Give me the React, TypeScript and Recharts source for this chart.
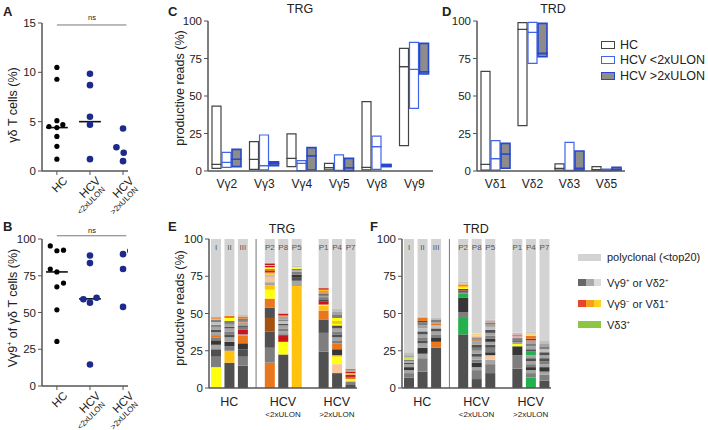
import React from 'react';
import { ScatterChart, Scatter, BarChart, Bar, XAxis, YAxis, ReferenceLine, Cell, LabelList } from 'recharts';

const FONT = '"Liberation Sans", Arial, Helvetica, sans-serif';
const AX = '#555';
const TXT = '#222';

// ---------- A / B : dot plots ----------
const groupMain = ['HC', 'HCV', 'HCV'];
const groupSub = ['', '<2xULON', '>2xULON'];

// x = group (1..3, small offsets as drawn), y = value
const aHc = [
  { x: 1, y: 10.5 }, { x: 1, y: 9.3 }, { x: 1, y: 5.1 }, { x: 0.76, y: 4.5 }, { x: 1.0, y: 4.4 },
  { x: 1.18, y: 4.7 }, { x: 1, y: 3.5 }, { x: 1, y: 2.5 }, { x: 1, y: 1.2 },
];
const aLow = [{ x: 2, y: 9.85 }, { x: 2, y: 8.7 }, { x: 2, y: 5.5 }, { x: 2, y: 4.7 }, { x: 2, y: 1.2 }];
const aHigh = [{ x: 3, y: 4.3 }, { x: 2.8, y: 2.4 }, { x: 3.02, y: 1.85 }, { x: 3, y: 1.0 }];
const aMedians = [4.4, 5.0, 2.1];

const bHc = [
  { x: 0.8, y: 95.3 }, { x: 1.0, y: 92 }, { x: 1.2, y: 92.4 }, { x: 0.8, y: 79.6 }, { x: 1.0, y: 77.6 },
  { x: 1.2, y: 70 }, { x: 1.0, y: 67.5 }, { x: 1.0, y: 51.8 }, { x: 1.0, y: 30.3 },
];
const bLow = [
  { x: 2, y: 88.8 }, { x: 2, y: 83.6 }, { x: 1.8, y: 59 }, { x: 2.2, y: 60 }, { x: 2, y: 56.7 }, { x: 2, y: 14.6 },
];
const bHigh = [{ x: 3, y: 89.7 }, { x: 3.22, y: 92 }, { x: 3, y: 79.6 }, { x: 3, y: 53.8 }];
const bMedians = [77.6, 59.3, 84.5];

// ---------- C / D : range bars [min, median, max] ----------
const trgGenes = ['Vγ2', 'Vγ3', 'Vγ4', 'Vγ5', 'Vγ8', 'Vγ9'];
const trgHc = [[1.8, 4.4, 43.3], [1.1, 7.8, 19.6], [2.9, 8.4, 24.7], [0.7, 2.2, 5.1], [0.7, 2.4, 46.2], [16.9, 69.6, 81.8]];
const trgLow = [[2.4, 5.8, 12.4], [0.7, 3.6, 24], [0.2, 5.1, 6.9], [0.2, 0.5, 10.7], [1.1, 16.2, 23.3], [41.8, 67.8, 85.8]];
const trgHigh = [[2.9, 7.8, 14.4], [3.6, 5.1, 6.2], [0.7, 10.2, 15.6], [0.2, 2.2, 8.4], [2.9, 3.5, 4.4], [64.7, 66.2, 85.1]];

const trdGenes = ['Vδ1', 'Vδ2', 'Vδ3', 'Vδ5'];
const trdHc = [[0.6, 4.4, 66.4], [30.2, 94.4, 98.9], [0.6, 1.8, 4.7], [0.6, 0.9, 2.9]];
const trdLow = [[0.6, 8.2, 20.2], [71.8, 92.4, 99.1], [0.2, 0.5, 19.1], [0.2, 0.4, 1.3]];
const trdHigh = [[1.8, 11.3, 18.4], [76.2, 78.4, 98.4], [0.6, 1.8, 13.3], [0.6, 1.0, 2.4]];

// ---------- E / F : top clones per sample, bottom-up [type, %] ----------
const slots = ['I', 'II', 'III', 'g1', 'P2', 'P8', 'P5', 'g2', 'P1', 'P4', 'P7'];
const slotGroupMain: Record<string, string> = { II: 'HC', P8: 'HCV', P4: 'HCV' };
const slotGroupSub: Record<string, string> = { II: '', P8: '<2xULON', P4: '>2xULON' };

type Seg = [string, number];
const trgI: Seg[] = [['Y', 14], ['M', 7], ['D', 5], ['L', 3], ['K', 3], ['M', 2], ['O', 1.5], ['L', 2], ['D', 1.5], ['L', 2], ['M', 1.5], ['W', 2], ['D', 1], ['W', 1], ['O', 1]];
const trgII: Seg[] = [['D', 17], ['A', 8], ['M', 3], ['K', 3], ['L', 3], ['D', 2], ['M', 2], ['L', 2], ['D', 1], ['L', 2], ['M', 2], ['Y', 2], ['O', 1.5]];
const trgIII: Seg[] = [['D', 15], ['M', 6], ['D', 5], ['K', 4], ['O', 5], ['L', 1], ['R', 3], ['M', 2], ['D', 1], ['L', 2], ['O', 1], ['M', 1.5], ['O', 1.5], ['W', 1]];
const trgP2: Seg[] = [['O', 17], ['M', 10], ['D', 11], ['B', 9], ['D', 7], ['O', 6], ['Y', 6], ['A', 3], ['L', 2], ['P', 3], ['W', 2], ['A', 1.5], ['R', 1], ['O', 1.5], ['Y', 1], ['R', 1], ['W', 0.5], ['R', 1], ['O', 0.5]];
const trgP8: Seg[] = [['D', 22.5], ['Y', 8.5], ['R', 4], ['D', 1], ['L', 2], ['M', 2], ['L', 2], ['D', 1], ['W', 2], ['M', 1], ['L', 2], ['O', 1], ['R', 1]];
const trgP5: Seg[] = [['A', 68.5], ['L', 3.5], ['D', 2], ['K', 2], ['M', 2], ['L', 1], ['M', 1], ['Y', 1], ['W', 1]];
const trgP1: Seg[] = [['D', 24.5], ['M', 12.5], ['D', 9], ['O', 6], ['A', 3], ['Y', 1], ['R', 2], ['K', 1], ['M', 2], ['L', 1], ['D', 1], ['L', 1], ['O', 1], ['A', 1], ['R', 1]];
const trgP4: Seg[] = [['D', 10], ['P', 6], ['Y', 5], ['A', 1], ['K', 4], ['O', 4], ['M', 2], ['L', 2], ['D', 2], ['M', 2], ['L', 2], ['D', 2], ['Y', 1], ['A', 2], ['Y', 2], ['M', 2], ['L', 2], ['W', 2]];
const trgP7: Seg[] = [['D', 2], ['M', 2], ['A', 1], ['Y', 1], ['O', 1], ['R', 1], ['D', 1], ['A', 1], ['R', 1], ['L', 1], ['O', 1]];

const trdI: Seg[] = [['D', 7], ['M', 3], ['L', 2], ['K', 2], ['L', 2], ['D', 1], ['L', 1], ['M', 1], ['V', 1.5], ['L', 1.5], ['W', 2]];
const trdII: Seg[] = [['D', 11], ['M', 9], ['L', 3], ['K', 4], ['L', 3], ['D', 2], ['M', 2], ['L', 2], ['D', 2], ['W', 2], ['L', 2], ['M', 2], ['D', 1], ['O', 2], ['W', 1]];
const trdIII: Seg[] = [['D', 27], ['O', 4], ['K', 3], ['M', 2], ['L', 2], ['D', 2], ['W', 2], ['O', 1], ['L', 1], ['M', 2], ['W', 1]];
const trdP2: Seg[] = [['D', 36], ['G', 11], ['M', 4], ['K', 9.5], ['G', 3], ['M', 1], ['D', 1], ['R', 1], ['Y', 1], ['A', 1], ['O', 1], ['P', 1], ['W', 1]];
const trdP8: Seg[] = [['D', 6], ['M', 6], ['L', 2], ['K', 3], ['M', 2], ['L', 2], ['D', 2], ['L', 2], ['M', 2], ['D', 2], ['L', 2], ['T', 2], ['M', 1], ['P', 1], ['E', 1.5]];
const trdP5: Seg[] = [['D', 10], ['M', 6], ['L', 3], ['P', 3], ['K', 2], ['M', 3], ['D', 2], ['L', 2], ['K', 2], ['M', 2], ['L', 2], ['D', 2], ['W', 2], ['L', 1.5], ['M', 1.5], ['F', 1], ['W', 1]];
const trdP1: Seg[] = [['D', 13], ['M', 9], ['K', 6], ['Y', 1.5], ['L', 1.5], ['D', 1], ['M', 1.5], ['W', 1], ['N', 1.5], ['W', 1]];
const trdP4: Seg[] = [['G', 7], ['M', 3], ['L', 2], ['K', 2], ['M', 2], ['L', 2], ['D', 2], ['L', 2], ['G', 2.5], ['D', 1.5], ['L', 2], ['M', 2], ['L', 2], ['R', 1], ['O', 2], ['E', 2], ['W', 1]];
const trdP7: Seg[] = [['D', 5], ['M', 4], ['L', 2], ['K', 3], ['L', 2], ['M', 2], ['D', 2], ['L', 2], ['D', 2], ['W', 2], ['M', 2], ['L', 2], ['W', 2]];

const palette: Record<string, string> = {
  D: '#505050', K: '#363636', M: '#7e7e7e', L: '#a4a4a4', W: '#c0c0c0',
  Y: '#ffff10', A: '#ffc20e', O: '#e8771e', R: '#c8141e', B: '#a3520f', P: '#f8c49c',
  G: '#22b14c', V: '#d2e05a', T: '#c8915e', E: '#f2d77e', N: '#d98080', F: '#f0a070',
};
const POLY = '#d3d3d3';

function stackRows(sets: Seg[][]) {
  let si = 0;
  return slots.map((slot) => {
    const row: any = { slot, label: slot.startsWith('g') ? '' : slot, poly: 0 };
    if (slot.startsWith('g')) return row;
    const segs = sets[si++];
    let sum = 0;
    segs.forEach(([c, v], k) => {
      row['s' + k] = v;
      row['c' + k] = c;
      sum += v;
    });
    row.poly = 100 - sum;
    return row;
  });
}

function boxRows(genes: string[], hc: number[][], lo: number[][], hi: number[][]) {
  return genes.map((g, i) => ({
    gene: g,
    hcB: hc[i][0], hcL: hc[i][1] - hc[i][0], hcU: hc[i][2] - hc[i][1],
    loB: lo[i][0], loL: lo[i][1] - lo[i][0], loU: lo[i][2] - lo[i][1],
    hiB: hi[i][0], hiL: hi[i][1] - hi[i][0], hiU: hi[i][2] - hi[i][1],
  }));
}

const tickStyle = { fontSize: 11.5, fill: TXT, fontFamily: FONT };

const GroupTick = (props: any) => {
  const { x, y, payload } = props;
  const i = Math.round(payload.value) - 1;
  return (
    <g transform={`translate(${x},${y - 4}) rotate(-45)`}>
      <text x={2} y={14} textAnchor="end" fontSize={11.5} fill={TXT} fontFamily={FONT}>{groupMain[i]}</text>
      {groupSub[i] && (
        <text x={-1} y={23} textAnchor="end" fontSize={8} fill={TXT} fontFamily={FONT}>{groupSub[i]}</text>
      )}
    </g>
  );
};

const SampleTick = (props: any) => {
  const { x, y, payload } = props;
  const main = slotGroupMain[payload.value];
  if (!main) return <g />;
  const sub = slotGroupSub[payload.value];
  return (
    <g transform={`translate(${x},${y})`}>
      <text y={10} textAnchor="middle" fontSize={12.5} fill={TXT} fontFamily={FONT}>{main}</text>
      {sub && <text y={21} textAnchor="middle" fontSize={8} fill={TXT} fontFamily={FONT}>{sub}</text>}
    </g>
  );
};

const SampleLabel = (props: any) => {
  const { x, y, width, value } = props;
  if (!value) return <g />;
  return (
    <text x={x + width / 2} y={y + 11} textAnchor="middle" fontSize={8} fill="#555" stroke="none" fontFamily={FONT}>
      {value}
    </text>
  );
};

function Dots(props: { hc: any[]; lo: any[]; hi: any[]; med: number[]; max: number; ticks: number[]; ns: number }) {
  const { hc, lo, hi, med, max, ticks, ns } = props;
  return (
    <>
      <XAxis type="number" dataKey="x" domain={[0.55, 3.15]} ticks={[1, 2, 3]} tick={<GroupTick />}
        axisLine={{ stroke: AX, strokeWidth: 1.5 }} tickLine={{ stroke: AX }} tickSize={4} height={44} allowDataOverflow />
      <YAxis type="number" dataKey="y" domain={[0, max]} ticks={ticks} tick={tickStyle} width={42}
        axisLine={{ stroke: AX, strokeWidth: 1.5 }} tickLine={{ stroke: AX }} tickSize={4} />
      <ReferenceLine segment={[{ x: 1, y: ns }, { x: 3.1, y: ns }]} stroke="#777" strokeWidth={1} ifOverflow="visible" />
      {med.map((m, i) => (
        <ReferenceLine key={i} segment={[{ x: i + 1 - 0.33, y: m }, { x: i + 1 + 0.33, y: m }]} stroke="#111" strokeWidth={1.6} />
      ))}
      <Scatter data={hc} isAnimationActive={false} shape={(p: any) => <circle cx={p.cx} cy={p.cy} r={2.6} fill="#000" />} />
      <Scatter data={lo} isAnimationActive={false} shape={(p: any) => <circle cx={p.cx} cy={p.cy} r={3.3} fill="#1c2a8c" />} />
      <Scatter data={hi} isAnimationActive={false} shape={(p: any) => <circle cx={p.cx} cy={p.cy} r={3.3} fill="#1c2a8c" />} />
    </>
  );
}

function boxBars(prefix: string, fill: string, stroke: string, sw: number) {
  return [
    <Bar key={prefix + 'B'} dataKey={prefix + 'B'} stackId={prefix} fill="transparent" isAnimationActive={false} />,
    <Bar key={prefix + 'L'} dataKey={prefix + 'L'} stackId={prefix} fill={fill} stroke={stroke} strokeWidth={sw} isAnimationActive={false} />,
    <Bar key={prefix + 'U'} dataKey={prefix + 'U'} stackId={prefix} fill={fill} stroke={stroke} strokeWidth={sw} isAnimationActive={false} />,
  ];
}

function BoxPanel(props: { data: any[]; width: number; yWidth: number }) {
  return (
    <BarChart width={props.width} height={215} data={props.data} margin={{ top: 21, right: 5, left: 0, bottom: 0 }}
      barSize={9} barGap={1}>
      <XAxis dataKey="gene" tick={{ ...tickStyle, fontSize: 12 }} tickLine={false} axisLine={{ stroke: AX, strokeWidth: 1.5 }} height={44} />
      <YAxis domain={[0, 100]} ticks={[0, 25, 50, 75, 100]} tick={tickStyle} width={props.yWidth}
        axisLine={{ stroke: AX, strokeWidth: 1.5 }} tickLine={{ stroke: AX }} tickSize={4} />
      {boxBars('hc', '#fff', '#444', 1.2)}
      {boxBars('lo', '#fff', '#3f66ea', 1.2)}
      {boxBars('hi', '#8c8c8c', '#2748cc', 1.6)}
    </BarChart>
  );
}

function StackPanel(props: { rows: any[]; width: number; yWidth: number }) {
  const { rows } = props;
  const maxK = Math.max(...rows.map((r) => Object.keys(r).filter((k) => k.startsWith('s') && k !== 'slot').length));
  const keys = Array.from({ length: maxK }, (_, k) => k);
  return (
    <BarChart width={props.width} height={215} data={rows} margin={{ top: 24, right: 5, left: 0, bottom: 0 }} barSize={10}>
      <XAxis dataKey="slot" interval={0} tick={<SampleTick />} tickLine={false} axisLine={{ stroke: AX, strokeWidth: 1.5 }} height={42} />
      <YAxis domain={[0, 100]} ticks={[0, 25, 50, 75, 100]} tick={tickStyle} width={props.yWidth}
        axisLine={{ stroke: AX, strokeWidth: 1.5 }} tickLine={{ stroke: AX }} tickSize={4} />
      <ReferenceLine x="g1" stroke="#777" strokeWidth={1} />
      {keys.map((k) => (
        <Bar key={k} dataKey={'s' + k} stackId="a" isAnimationActive={false}>
          {rows.map((r, i) => (
            <Cell key={i} fill={palette[r['c' + k]] || 'transparent'} />
          ))}
        </Bar>
      ))}
      <Bar dataKey="poly" stackId="a" fill={POLY} isAnimationActive={false}>
        <LabelList dataKey="label" content={<SampleLabel />} />
      </Bar>
    </BarChart>
  );
}

const abs = (left: number, top: number): React.CSSProperties => ({ position: 'absolute', left, top });

function Txt(props: { x: number; y: number; size?: number; bold?: boolean; center?: boolean; children: React.ReactNode }) {
  return (
    <div style={{
      ...abs(props.x, props.y), fontSize: props.size || 12, fontWeight: props.bold ? 700 : 400, color: TXT,
      whiteSpace: 'nowrap', lineHeight: 1, transform: props.center ? 'translateX(-50%)' : undefined,
    }}>{props.children}</div>
  );
}

function VTxt(props: { x: number; y: number; children: React.ReactNode }) {
  return (
    <div style={{
      ...abs(props.x, props.y), fontSize: 12.5, color: TXT, whiteSpace: 'nowrap', lineHeight: 1,
      transform: 'translate(-50%,-50%) rotate(-90deg)',
    }}>{props.children}</div>
  );
}

const Box = (props: { x: number; y: number; w: number; h: number; fill: string; stroke?: string }) => (
  <div style={{
    ...abs(props.x, props.y), width: props.w, height: props.h, background: props.fill,
    boxSizing: 'border-box', border: props.stroke ? `1.5px solid ${props.stroke}` : undefined,
  }} />
);

export default function App() {
  const trgBoxes = boxRows(trgGenes, trgHc, trgLow, trgHigh);
  const trdBoxes = boxRows(trdGenes, trdHc, trdLow, trdHigh);
  const trgRows = stackRows([trgI, trgII, trgIII, trgP2, trgP8, trgP5, trgP1, trgP4, trgP7]);
  const trdRows = stackRows([trdI, trdII, trdIII, trdP2, trdP8, trdP5, trdP1, trdP4, trdP7]);

  return (
    <div style={{ position: 'absolute', left: 0, top: 0, width: 708, height: 430, background: '#fff', fontFamily: FONT, overflow: 'hidden' }}>
      <div style={abs(0, 0)}>
        <ScatterChart width={145} height={215} margin={{ top: 23, right: 17, left: 0, bottom: 0 }}>
          {Dots({ hc: aHc, lo: aLow, hi: aHigh, med: aMedians, max: 15, ticks: [0, 5, 10, 15], ns: 14.8 })}
        </ScatterChart>
      </div>
      <div style={abs(0, 215)}>
        <ScatterChart width={145} height={215} margin={{ top: 24, right: 17, left: 0, bottom: 0 }}>
          {Dots({ hc: bHc, lo: bLow, hi: bHigh, med: bMedians, max: 100, ticks: [0, 25, 50, 75, 100], ns: 102.2 })}
        </ScatterChart>
      </div>
      <div style={abs(170, 0)}>
        <BoxPanel data={trgBoxes} width={268} yWidth={38} />
      </div>
      <div style={abs(440, 0)}>
        <BoxPanel data={trdBoxes} width={190} yWidth={37} />
      </div>
      <div style={abs(170, 215)}>
        <StackPanel rows={trgRows} width={192} yWidth={39} />
      </div>
      <div style={abs(362, 215)}>
        <StackPanel rows={trdRows} width={194} yWidth={40} />
      </div>

      {/* panel letters */}
      <Txt x={3} y={5} size={13} bold>A</Txt>
      <Txt x={3} y={220} size={13} bold>B</Txt>
      <Txt x={168} y={5} size={13} bold>C</Txt>
      <Txt x={442} y={5} size={13} bold>D</Txt>
      <Txt x={168} y={220} size={13} bold>E</Txt>
      <Txt x={370} y={220} size={13} bold>F</Txt>

      {/* titles */}
      <Txt x={300} y={3} size={12.5} center>TRG</Txt>
      <Txt x={553} y={3} size={12.5} center>TRD</Txt>
      <Txt x={282} y={223} size={12.5} center>TRG</Txt>
      <Txt x={476} y={223} size={12.5} center>TRD</Txt>

      {/* ns */}
      <Txt x={92} y={14} size={7.5} center>ns</Txt>
      <Txt x={92} y={227} size={7.5} center>ns</Txt>

      {/* axis titles */}
      <VTxt x={13} y={105}>γδ T cells (%)</VTxt>
      <VTxt x={13} y={308}>Vγ9<sup style={{ fontSize: 7 }}>+</sup> of γδ T cells (%)</VTxt>
      <VTxt x={180} y={88}>productive reads (%)</VTxt>
      <VTxt x={180} y={308}>productive reads (%)</VTxt>

      {/* legend C/D */}
      <Box x={601} y={41} w={14} h={8} fill="#fff" stroke="#444" />
      <Txt x={620} y={39} size={12.5}>HC</Txt>
      <Box x={601} y={56} w={14} h={8} fill="#fff" stroke="#3f66ea" />
      <Txt x={620} y={54} size={12.5}>HCV &lt;2xULON</Txt>
      <Box x={601} y={72} w={14} h={8} fill="#8c8c8c" stroke="#2748cc" />
      <Txt x={620} y={70} size={12.5}>HCV &gt;2xULON</Txt>

      {/* legend E/F */}
      <Box x={578} y={254} w={23} h={7} fill={POLY} />
      <Txt x={607} y={252} size={11}>polyclonal (&lt;top20)</Txt>
      <Box x={578} y={279} w={8} h={7} fill="#666" />
      <Box x={586} y={279} w={8} h={7} fill="#aaa" />
      <Box x={594} y={279} w={7} h={7} fill="#dcdcdc" />
      <Txt x={607} y={277} size={11}>Vγ9<sup style={{ fontSize: 6 }}>+</sup> or Vδ2<sup style={{ fontSize: 6 }}>+</sup></Txt>
      <Box x={578} y={300} w={8} h={7} fill="#e8462a" />
      <Box x={586} y={300} w={8} h={7} fill="#f5a020" />
      <Box x={594} y={300} w={7} h={7} fill="#ffd21f" />
      <Txt x={607} y={298} size={11}>Vγ9<sup style={{ fontSize: 6 }}>−</sup> or Vδ1<sup style={{ fontSize: 6 }}>+</sup></Txt>
      <Box x={578} y={321} w={23} h={7} fill="#8dc641" />
      <Txt x={607} y={319} size={11}>Vδ3<sup style={{ fontSize: 6 }}>+</sup></Txt>
    </div>
  );
}
